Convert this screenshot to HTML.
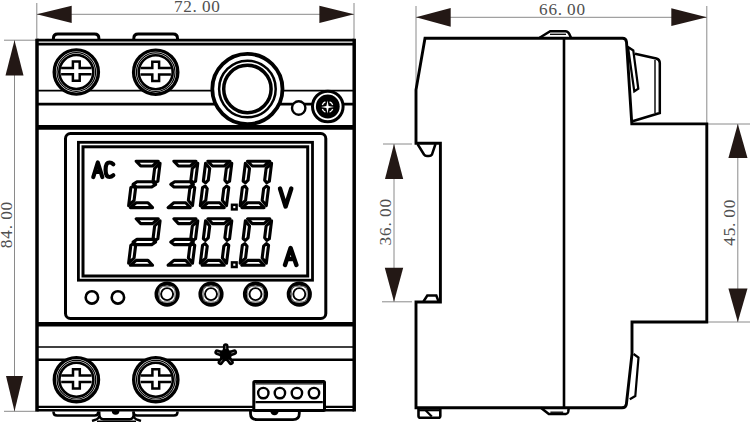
<!DOCTYPE html>
<html><head><meta charset="utf-8"><style>
html,body{margin:0;padding:0;background:#fff;}
body{width:750px;height:422px;overflow:hidden;font-family:"Liberation Sans",sans-serif;}
svg{display:block;}
</style></head><body>
<svg width="750" height="422" viewBox="0 0 750 422">
<rect width="750" height="422" fill="#fff"/>
<line x1="36.8" y1="3" x2="36.8" y2="40" stroke="#8a8a8a" stroke-width="1"/>
<line x1="354" y1="3" x2="354" y2="40" stroke="#8a8a8a" stroke-width="1"/>
<line x1="36.8" y1="14.3" x2="354" y2="14.3" stroke="#8a8a8a" stroke-width="1"/>
<polygon points="36.8,14.3 71.7,5.7 71.7,23" fill="#231815"/>
<polygon points="354,14.3 319.4,5.7 319.4,23" fill="#231815"/>
<text x="173.90 183.25 192.60 201.95 211.30" y="11.6" font-family="Liberation Serif" font-size="17.2" fill="#505050">72.00</text>
<line x1="4" y1="40.2" x2="37" y2="40.2" stroke="#8a8a8a" stroke-width="1"/>
<line x1="4" y1="411.3" x2="37" y2="411.3" stroke="#8a8a8a" stroke-width="1"/>
<line x1="14.5" y1="40.2" x2="14.5" y2="411.3" stroke="#8a8a8a" stroke-width="1"/>
<polygon points="14.5,40.2 5.5,75.6 23.5,75.6" fill="#231815"/>
<polygon points="14.5,411.3 6,376 23,376" fill="#231815"/>
<text transform="translate(12.0,248.2) rotate(-90)" x="0.00 9.45 18.90 28.35 37.80" y="0" font-family="Liberation Serif" font-size="17.2" fill="#505050">84.00</text>
<line x1="37" y1="40.2" x2="354.2" y2="40.2" stroke="#000" stroke-width="2.8"/>
<line x1="37" y1="44.2" x2="354.2" y2="44.2" stroke="#000" stroke-width="2.8"/>
<line x1="37" y1="90.6" x2="354.2" y2="90.6" stroke="#000" stroke-width="1.8"/>
<line x1="37" y1="104.2" x2="354.2" y2="104.2" stroke="#000" stroke-width="2.8"/>
<line x1="37" y1="127.4" x2="354.2" y2="127.4" stroke="#000" stroke-width="4.8"/>
<line x1="37" y1="324.2" x2="354.2" y2="324.2" stroke="#000" stroke-width="4.4"/>
<line x1="37" y1="347" x2="354.2" y2="347" stroke="#000" stroke-width="1.6"/>
<line x1="37" y1="359.8" x2="354.2" y2="359.8" stroke="#000" stroke-width="2.6"/>
<line x1="37" y1="406.8" x2="354.2" y2="406.8" stroke="#000" stroke-width="2.2"/>
<line x1="37" y1="410.2" x2="354.2" y2="410.2" stroke="#000" stroke-width="2.4"/>
<line x1="37" y1="38.8" x2="37" y2="411.6" stroke="#000" stroke-width="3.5"/>
<line x1="354.2" y1="38.8" x2="354.2" y2="411.6" stroke="#000" stroke-width="3.5"/>
<path d="M53.4,39 V38.5 Q53.4,34.1 57.8,34.1 H94.5 Q98.9,34.1 98.9,38.5 V39" fill="none" stroke="#000" stroke-width="3" />
<path d="M133.8,39 V38.5 Q133.8,34.1 138.20000000000002,34.1 H173.1 Q177.5,34.1 177.5,38.5 V39" fill="none" stroke="#000" stroke-width="3" />
<circle cx="76.3" cy="72" r="22.1" fill="#fff" stroke="#000" stroke-width="3.4"/>
<circle cx="76.3" cy="72" r="19.3" fill="#fff" stroke="#000" stroke-width="1.2"/>
<circle cx="76.3" cy="72" r="17.0" fill="#fff" stroke="#000" stroke-width="2.6"/>
<path d="M61.099999999999994,67.89999999999999 H72.89999999999999 V61.49999999999999 H79.7 V67.89999999999999 H91.5 M91.5,74.3 H79.7 V80.69999999999999 H72.89999999999999 V74.3 H61.099999999999994" fill="none" stroke="#000" stroke-width="2.5" />
<circle cx="155.7" cy="72.2" r="22.1" fill="#fff" stroke="#000" stroke-width="3.4"/>
<circle cx="155.7" cy="72.2" r="19.3" fill="#fff" stroke="#000" stroke-width="1.2"/>
<circle cx="155.7" cy="72.2" r="17.0" fill="#fff" stroke="#000" stroke-width="2.6"/>
<path d="M140.5,68.1 H152.29999999999998 V61.699999999999996 H159.1 V68.1 H170.89999999999998 M170.89999999999998,74.5 H159.1 V80.89999999999999 H152.29999999999998 V74.5 H140.5" fill="none" stroke="#000" stroke-width="2.5" />
<circle cx="247.4" cy="89" r="35.1" fill="#fff" stroke="#000" stroke-width="3.8"/>
<circle cx="247.4" cy="89" r="28.3" fill="#fff" stroke="#000" stroke-width="2.5"/>
<circle cx="247.4" cy="89" r="23.7" fill="#fff" stroke="#000" stroke-width="3.5"/>
<circle cx="298.7" cy="108" r="6.7" fill="#fff" stroke="#000" stroke-width="2.4"/>
<circle cx="327.8" cy="106.5" r="15.3" fill="#fff" stroke="#000" stroke-width="3.0"/>
<circle cx="327.8" cy="106.5" r="11.9" fill="#000" stroke="#000" stroke-width="0"/>
<path d="M327.5,100.5 L328.6,105.9 L334.0,107 L328.6,108.1 L327.5,113.5 L326.4,108.1 L321.0,107 L326.4,105.9 Z" fill="#fff"/>
<path d="M332.69,109.10 A5.6,5.6 0 0 1 329.60,112.19" fill="none" stroke="#fff" stroke-width="1.3"/>
<path d="M325.40,112.19 A5.6,5.6 0 0 1 322.31,109.10" fill="none" stroke="#fff" stroke-width="1.3"/>
<path d="M322.31,104.90 A5.6,5.6 0 0 1 325.40,101.81" fill="none" stroke="#fff" stroke-width="1.3"/>
<path d="M329.60,101.81 A5.6,5.6 0 0 1 332.69,104.90" fill="none" stroke="#fff" stroke-width="1.3"/>
<rect x="65.5" y="133.5" width="260.3" height="185" rx="5" fill="#fff" stroke="#000" stroke-width="3.0"/>
<rect x="78.4" y="142.3" width="234.1" height="137.9" fill="none" stroke="#000" stroke-width="2.8"/>
<rect x="83.0" y="146.8" width="224.7" height="129.2" fill="none" stroke="#000" stroke-width="3.0"/>
<polygon points="136.13,161.20 158.33,161.20 152.53,166.00 140.73,166.00" fill="none" stroke="#000" stroke-width="3.1" stroke-linejoin="round"/>
<polygon points="160.08,163.20 154.63,168.40 153.17,180.20 155.25,182.80 157.85,181.20" fill="none" stroke="#000" stroke-width="3.1" stroke-linejoin="round"/>
<polygon points="133.05,184.40 136.98,181.75 152.38,181.75 155.65,184.40 151.72,187.05 136.32,187.05" fill="none" stroke="#000" stroke-width="3.1" stroke-linejoin="round"/>
<polygon points="128.62,205.60 134.07,200.40 135.53,188.60 133.45,186.00 130.85,187.60" fill="none" stroke="#000" stroke-width="3.1" stroke-linejoin="round"/>
<polygon points="130.37,207.60 152.57,207.60 147.97,202.80 136.17,202.80" fill="none" stroke="#000" stroke-width="3.1" stroke-linejoin="round"/>
<polygon points="173.83,161.20 196.03,161.20 190.23,166.00 178.43,166.00" fill="none" stroke="#000" stroke-width="3.1" stroke-linejoin="round"/>
<polygon points="197.78,163.20 192.33,168.40 190.87,180.20 192.95,182.80 195.55,181.20" fill="none" stroke="#000" stroke-width="3.1" stroke-linejoin="round"/>
<polygon points="170.75,184.40 174.68,181.75 190.08,181.75 193.35,184.40 189.42,187.05 174.02,187.05" fill="none" stroke="#000" stroke-width="3.1" stroke-linejoin="round"/>
<polygon points="192.52,205.60 188.37,200.40 189.83,188.60 192.55,186.00 194.75,187.60" fill="none" stroke="#000" stroke-width="3.1" stroke-linejoin="round"/>
<polygon points="168.07,207.60 190.27,207.60 185.67,202.80 173.87,202.80" fill="none" stroke="#000" stroke-width="3.1" stroke-linejoin="round"/>
<polygon points="207.83,161.20 230.03,161.20 224.23,166.00 212.43,166.00" fill="none" stroke="#000" stroke-width="3.1" stroke-linejoin="round"/>
<polygon points="231.78,163.20 226.33,168.40 224.87,180.20 226.95,182.80 229.55,181.20" fill="none" stroke="#000" stroke-width="3.1" stroke-linejoin="round"/>
<polygon points="226.52,205.60 222.37,200.40 223.83,188.60 226.55,186.00 228.75,187.60" fill="none" stroke="#000" stroke-width="3.1" stroke-linejoin="round"/>
<polygon points="202.07,207.60 224.27,207.60 219.67,202.80 207.87,202.80" fill="none" stroke="#000" stroke-width="3.1" stroke-linejoin="round"/>
<polygon points="200.32,205.60 205.77,200.40 207.23,188.60 205.15,186.00 202.55,187.60" fill="none" stroke="#000" stroke-width="3.1" stroke-linejoin="round"/>
<polygon points="205.58,163.20 209.73,168.40 208.27,180.20 205.55,182.80 203.35,181.20" fill="none" stroke="#000" stroke-width="3.1" stroke-linejoin="round"/>
<polygon points="247.63,161.20 269.83,161.20 264.03,166.00 252.23,166.00" fill="none" stroke="#000" stroke-width="3.1" stroke-linejoin="round"/>
<polygon points="271.58,163.20 266.13,168.40 264.67,180.20 266.75,182.80 269.35,181.20" fill="none" stroke="#000" stroke-width="3.1" stroke-linejoin="round"/>
<polygon points="266.32,205.60 262.17,200.40 263.63,188.60 266.35,186.00 268.55,187.60" fill="none" stroke="#000" stroke-width="3.1" stroke-linejoin="round"/>
<polygon points="241.87,207.60 264.07,207.60 259.47,202.80 247.67,202.80" fill="none" stroke="#000" stroke-width="3.1" stroke-linejoin="round"/>
<polygon points="240.12,205.60 245.57,200.40 247.03,188.60 244.95,186.00 242.35,187.60" fill="none" stroke="#000" stroke-width="3.1" stroke-linejoin="round"/>
<polygon points="245.38,163.20 249.53,168.40 248.07,180.20 245.35,182.80 243.15,181.20" fill="none" stroke="#000" stroke-width="3.1" stroke-linejoin="round"/>
<rect x="232.0" y="204.8" width="4.6" height="4.6" fill="none" stroke="#000" stroke-width="2.5"/>
<polygon points="136.13,218.80 158.33,218.80 152.53,223.60 140.73,223.60" fill="none" stroke="#000" stroke-width="3.1" stroke-linejoin="round"/>
<polygon points="160.08,220.80 154.63,226.00 153.17,237.80 155.25,240.40 157.85,238.80" fill="none" stroke="#000" stroke-width="3.1" stroke-linejoin="round"/>
<polygon points="133.05,242.00 136.98,239.35 152.38,239.35 155.65,242.00 151.72,244.65 136.32,244.65" fill="none" stroke="#000" stroke-width="3.1" stroke-linejoin="round"/>
<polygon points="128.62,263.20 134.07,258.00 135.53,246.20 133.45,243.60 130.85,245.20" fill="none" stroke="#000" stroke-width="3.1" stroke-linejoin="round"/>
<polygon points="130.37,265.20 152.57,265.20 147.97,260.40 136.17,260.40" fill="none" stroke="#000" stroke-width="3.1" stroke-linejoin="round"/>
<polygon points="173.83,218.80 196.03,218.80 190.23,223.60 178.43,223.60" fill="none" stroke="#000" stroke-width="3.1" stroke-linejoin="round"/>
<polygon points="197.78,220.80 192.33,226.00 190.87,237.80 192.95,240.40 195.55,238.80" fill="none" stroke="#000" stroke-width="3.1" stroke-linejoin="round"/>
<polygon points="170.75,242.00 174.68,239.35 190.08,239.35 193.35,242.00 189.42,244.65 174.02,244.65" fill="none" stroke="#000" stroke-width="3.1" stroke-linejoin="round"/>
<polygon points="192.52,263.20 188.37,258.00 189.83,246.20 192.55,243.60 194.75,245.20" fill="none" stroke="#000" stroke-width="3.1" stroke-linejoin="round"/>
<polygon points="168.07,265.20 190.27,265.20 185.67,260.40 173.87,260.40" fill="none" stroke="#000" stroke-width="3.1" stroke-linejoin="round"/>
<polygon points="207.83,218.80 230.03,218.80 224.23,223.60 212.43,223.60" fill="none" stroke="#000" stroke-width="3.1" stroke-linejoin="round"/>
<polygon points="231.78,220.80 226.33,226.00 224.87,237.80 226.95,240.40 229.55,238.80" fill="none" stroke="#000" stroke-width="3.1" stroke-linejoin="round"/>
<polygon points="226.52,263.20 222.37,258.00 223.83,246.20 226.55,243.60 228.75,245.20" fill="none" stroke="#000" stroke-width="3.1" stroke-linejoin="round"/>
<polygon points="202.07,265.20 224.27,265.20 219.67,260.40 207.87,260.40" fill="none" stroke="#000" stroke-width="3.1" stroke-linejoin="round"/>
<polygon points="200.32,263.20 205.77,258.00 207.23,246.20 205.15,243.60 202.55,245.20" fill="none" stroke="#000" stroke-width="3.1" stroke-linejoin="round"/>
<polygon points="205.58,220.80 209.73,226.00 208.27,237.80 205.55,240.40 203.35,238.80" fill="none" stroke="#000" stroke-width="3.1" stroke-linejoin="round"/>
<polygon points="247.63,218.80 269.83,218.80 264.03,223.60 252.23,223.60" fill="none" stroke="#000" stroke-width="3.1" stroke-linejoin="round"/>
<polygon points="271.58,220.80 266.13,226.00 264.67,237.80 266.75,240.40 269.35,238.80" fill="none" stroke="#000" stroke-width="3.1" stroke-linejoin="round"/>
<polygon points="266.32,263.20 262.17,258.00 263.63,246.20 266.35,243.60 268.55,245.20" fill="none" stroke="#000" stroke-width="3.1" stroke-linejoin="round"/>
<polygon points="241.87,265.20 264.07,265.20 259.47,260.40 247.67,260.40" fill="none" stroke="#000" stroke-width="3.1" stroke-linejoin="round"/>
<polygon points="240.12,263.20 245.57,258.00 247.03,246.20 244.95,243.60 242.35,245.20" fill="none" stroke="#000" stroke-width="3.1" stroke-linejoin="round"/>
<polygon points="245.38,220.80 249.53,226.00 248.07,237.80 245.35,240.40 243.15,238.80" fill="none" stroke="#000" stroke-width="3.1" stroke-linejoin="round"/>
<rect x="232.0" y="262.4" width="4.6" height="4.6" fill="none" stroke="#000" stroke-width="2.5"/>
<path d="M93.3,177 L97.8,162.5 L102.3,177 M95,172 H100.5" fill="none" stroke="#000" stroke-width="4.2" stroke-linecap="round" stroke-linejoin="round"/>
<path d="M113.3,164.2 Q111.5,162.5 109.5,162.5 Q105.6,162.5 105.6,169.8 Q105.6,177 109.5,177 Q111.5,177 113.3,175.3" fill="none" stroke="#000" stroke-width="4.2" stroke-linecap="round" stroke-linejoin="round"/>
<path d="M280,188.5 L285.6,206.5 L291.3,188.5" fill="none" stroke="#000" stroke-width="4.4" stroke-linecap="round" stroke-linejoin="round"/>
<path d="M285,265 L290.6,248 L296.4,265 M287.3,259 H294" fill="none" stroke="#000" stroke-width="4.4" stroke-linecap="round" stroke-linejoin="round"/>
<circle cx="91.9" cy="297.4" r="6.2" fill="#fff" stroke="#000" stroke-width="2.6"/>
<circle cx="117.9" cy="297.4" r="6.2" fill="#fff" stroke="#000" stroke-width="2.6"/>
<circle cx="167.1" cy="294.1" r="10.65" fill="#fff" stroke="#000" stroke-width="3.9"/>
<rect x="159.29999999999998" y="286.3" width="15.6" height="15.6" rx="4" fill="none" stroke="#777" stroke-width="1"/>
<circle cx="167.1" cy="294.1" r="6.0" fill="#fff" stroke="#000" stroke-width="1.9"/>
<circle cx="211.0" cy="294.1" r="10.65" fill="#fff" stroke="#000" stroke-width="3.9"/>
<rect x="203.2" y="286.3" width="15.6" height="15.6" rx="4" fill="none" stroke="#777" stroke-width="1"/>
<circle cx="211.0" cy="294.1" r="6.0" fill="#fff" stroke="#000" stroke-width="1.9"/>
<circle cx="255.5" cy="294.1" r="10.65" fill="#fff" stroke="#000" stroke-width="3.9"/>
<rect x="247.7" y="286.3" width="15.6" height="15.6" rx="4" fill="none" stroke="#777" stroke-width="1"/>
<circle cx="255.5" cy="294.1" r="6.0" fill="#fff" stroke="#000" stroke-width="1.9"/>
<circle cx="299.3" cy="294.1" r="10.65" fill="#fff" stroke="#000" stroke-width="3.9"/>
<rect x="291.5" y="286.3" width="15.6" height="15.6" rx="4" fill="none" stroke="#777" stroke-width="1"/>
<circle cx="299.3" cy="294.1" r="6.0" fill="#fff" stroke="#000" stroke-width="1.9"/>
<circle cx="76.4" cy="379.7" r="22.1" fill="#fff" stroke="#000" stroke-width="3.4"/>
<circle cx="76.4" cy="379.7" r="19.3" fill="#fff" stroke="#000" stroke-width="1.2"/>
<circle cx="76.4" cy="379.7" r="17.0" fill="#fff" stroke="#000" stroke-width="2.6"/>
<path d="M61.2,375.6 H73.0 V369.2 H79.80000000000001 V375.6 H91.60000000000001 M91.60000000000001,382.0 H79.80000000000001 V388.40000000000003 H73.0 V382.0 H61.2" fill="none" stroke="#000" stroke-width="2.5" />
<circle cx="155.8" cy="379.7" r="22.1" fill="#fff" stroke="#000" stroke-width="3.4"/>
<circle cx="155.8" cy="379.7" r="19.3" fill="#fff" stroke="#000" stroke-width="1.2"/>
<circle cx="155.8" cy="379.7" r="17.0" fill="#fff" stroke="#000" stroke-width="2.6"/>
<path d="M140.60000000000002,375.6 H152.4 V369.2 H159.20000000000002 V375.6 H171.0 M171.0,382.0 H159.20000000000002 V388.40000000000003 H152.4 V382.0 H140.60000000000002" fill="none" stroke="#000" stroke-width="2.5" />
<polygon points="225.70,347.50 228.17,351.60 232.83,352.68 229.69,356.30 230.11,361.07 225.70,359.20 221.29,361.07 221.71,356.30 218.57,352.68 223.23,351.60" fill="#000" stroke="#000" stroke-width="3" stroke-linejoin="round"/>
<line x1="225.70" y1="355.00" x2="225.70" y2="346.00" stroke="#000" stroke-width="5.6" stroke-linecap="round"/>
<line x1="225.70" y1="348.70" x2="225.70" y2="346.20" stroke="#777" stroke-width="1" stroke-linecap="round"/>
<line x1="225.70" y1="355.00" x2="234.26" y2="352.22" stroke="#000" stroke-width="5.6" stroke-linecap="round"/>
<line x1="231.69" y1="353.05" x2="234.07" y2="352.28" stroke="#777" stroke-width="1" stroke-linecap="round"/>
<line x1="225.70" y1="355.00" x2="230.99" y2="362.28" stroke="#000" stroke-width="5.6" stroke-linecap="round"/>
<line x1="229.40" y1="360.10" x2="230.87" y2="362.12" stroke="#777" stroke-width="1" stroke-linecap="round"/>
<line x1="225.70" y1="355.00" x2="220.41" y2="362.28" stroke="#000" stroke-width="5.6" stroke-linecap="round"/>
<line x1="222.00" y1="360.10" x2="220.53" y2="362.12" stroke="#777" stroke-width="1" stroke-linecap="round"/>
<line x1="225.70" y1="355.00" x2="217.14" y2="352.22" stroke="#000" stroke-width="5.6" stroke-linecap="round"/>
<line x1="219.71" y1="353.05" x2="217.33" y2="352.28" stroke="#777" stroke-width="1" stroke-linecap="round"/>
<rect x="253.8" y="381.5" width="70.7" height="29" rx="1" fill="#fff" stroke="#000" stroke-width="3"/>
<line x1="255.5" y1="383.8" x2="322.8" y2="383.8" stroke="#000" stroke-width="1.3"/>
<line x1="255.5" y1="402.1" x2="322.8" y2="402.1" stroke="#000" stroke-width="2.3"/>
<circle cx="263.3" cy="393.1" r="5.2" fill="#fff" stroke="#000" stroke-width="2.4"/>
<circle cx="279.9" cy="393.1" r="5.2" fill="#fff" stroke="#000" stroke-width="2.4"/>
<circle cx="296.9" cy="393.1" r="5.2" fill="#fff" stroke="#000" stroke-width="2.4"/>
<circle cx="314.0" cy="393.1" r="5.2" fill="#fff" stroke="#000" stroke-width="2.4"/>
<path d="M53.5,411.5 V412 Q53.5,415.6 57.1,415.6 H94.60000000000001 Q98.2,415.6 98.2,412 V411.5" fill="none" stroke="#000" stroke-width="2.5" />
<path d="M133.5,411.5 V412 Q133.5,415.6 137.1,415.6 H173.9 Q177.5,415.6 177.5,412 V411.5" fill="none" stroke="#000" stroke-width="2.5" />
<path d="M99.3,411.5 V413.5 Q99.3,419.2 103.5,419.2 H129.5 Q133.7,419.2 133.7,413.5 V411.5" fill="none" stroke="#000" stroke-width="2.4" />
<path d="M99.2,416 Q98.6,418.6 96.5,419.4 L92,421" fill="none" stroke="#000" stroke-width="2.4" />
<path d="M133.8,416 Q134.4,418.6 136.5,419.4 L141,421" fill="none" stroke="#000" stroke-width="2.4" />
<line x1="97" y1="421.4" x2="136" y2="421.4" stroke="#000" stroke-width="1.6"/>
<path d="M111.8,411 A3.8,3.8 0 0 0 119.4,411 Z" fill="#000"/>
<path d="M250.5,411 V413.5 Q250.5,419.6 257,419.6 H293 Q299.3,419.6 299.3,413.5 V411" fill="none" stroke="#000" stroke-width="2.8" />
<path d="M270.3,411 A4.2,4.2 0 0 0 278.7,411 Z" fill="#000"/>
<line x1="416" y1="6" x2="416" y2="90" stroke="#8a8a8a" stroke-width="1"/>
<line x1="706.8" y1="6" x2="706.8" y2="124" stroke="#8a8a8a" stroke-width="1"/>
<line x1="416" y1="17.3" x2="706.8" y2="17.3" stroke="#8a8a8a" stroke-width="1"/>
<polygon points="416,17.3 450.7,8 450.7,26.7" fill="#231815"/>
<polygon points="706.8,17.3 671.3,8.3 671.3,25.9" fill="#231815"/>
<text x="539.04 548.39 557.74 567.09 576.44" y="14.7" font-family="Liberation Serif" font-size="17.2" fill="#505050">66.00</text>
<line x1="383" y1="144" x2="412" y2="144" stroke="#8a8a8a" stroke-width="1"/>
<line x1="382" y1="301.8" x2="412" y2="301.8" stroke="#8a8a8a" stroke-width="1"/>
<line x1="394" y1="144" x2="394" y2="301.8" stroke="#8a8a8a" stroke-width="1"/>
<polygon points="394,144 385,179 403.2,179" fill="#231815"/>
<polygon points="394,301.8 384.8,267.7 403.2,267.7" fill="#231815"/>
<text transform="translate(391.3,245.4) rotate(-90)" x="0.00 9.45 18.90 28.35 37.80" y="0" font-family="Liberation Serif" font-size="17.2" fill="#505050">36.00</text>
<line x1="707" y1="124" x2="750" y2="124" stroke="#8a8a8a" stroke-width="1"/>
<line x1="707" y1="322" x2="750" y2="322" stroke="#8a8a8a" stroke-width="1"/>
<line x1="737.8" y1="124" x2="737.8" y2="322" stroke="#8a8a8a" stroke-width="1"/>
<polygon points="737.8,124 728.4,158 747.5,158" fill="#231815"/>
<polygon points="737.8,322 728.4,288.4 747.5,288.4" fill="#231815"/>
<text transform="translate(734.8,245.7) rotate(-90)" x="0.00 9.35 18.70 28.05 37.40" y="0" font-family="Liberation Serif" font-size="17.2" fill="#505050">45.00</text>
<path d="M425,38.3 H622.5 Q626,38.3 626.5,42 L631.8,123.9 H706.8 V322 H632 V354 L626.4,404 Q626,407.8 622,407.8 H416 V302 H440.4 V143.3 H416 V89.8 Z" fill="none" stroke="#000" stroke-width="2.9" stroke-linejoin="miter"/>
<line x1="564" y1="38.3" x2="564" y2="407.8" stroke="#000" stroke-width="2.6"/>
<path d="M539.6,37.8 L550.2,31.2 H565.5 Q568,31.2 569.3,34 L571,37.8" fill="none" stroke="#000" stroke-width="2.5" />
<line x1="550" y1="34.3" x2="566" y2="34.3" stroke="#000" stroke-width="1.3"/>
<path d="M540.8,407.8 L548.8,414 H566 Q567.6,414 568.2,412 L568.8,407.8" fill="none" stroke="#000" stroke-width="2.5" />
<line x1="550.4" y1="412.2" x2="563.2" y2="412.2" stroke="#000" stroke-width="1.3"/>
<path d="M417.5,144 L424,154.5 Q425,156 427,156 H429 Q431,156 432,154.5 L435.5,144" fill="none" stroke="#000" stroke-width="2.5" />
<path d="M423.5,301.5 L427.3,295.5 H436.3 L438.6,301.5" fill="none" stroke="#000" stroke-width="2.5" />
<path d="M418.5,408.5 V416 Q418.5,417.8 420.5,417.8 H438.3 Q440.3,417.8 440.3,416 V408.5" fill="none" stroke="#000" stroke-width="2.6" />
<line x1="418.5" y1="410.2" x2="440.3" y2="410.2" stroke="#000" stroke-width="2.2"/>
<line x1="425.8" y1="410.5" x2="431.8" y2="416.5" stroke="#000" stroke-width="2.2"/>
<path d="M628,47 L633.3,50.5 L638.3,88.8 L634.3,91.3 Z" fill="none" stroke="#000" stroke-width="2.2" />
<path d="M635,53.7 L656.3,58.5 Q659.8,59.5 659.8,63 V113 L632.5,121.2" fill="none" stroke="#000" stroke-width="2.5" />
<line x1="655" y1="60" x2="655" y2="113" stroke="#000" stroke-width="1.4"/>
<path d="M633.6,354 L638.5,357.5 L635.3,396 L629.8,399.3" fill="none" stroke="#000" stroke-width="2.2" />
</svg>
</body></html>
